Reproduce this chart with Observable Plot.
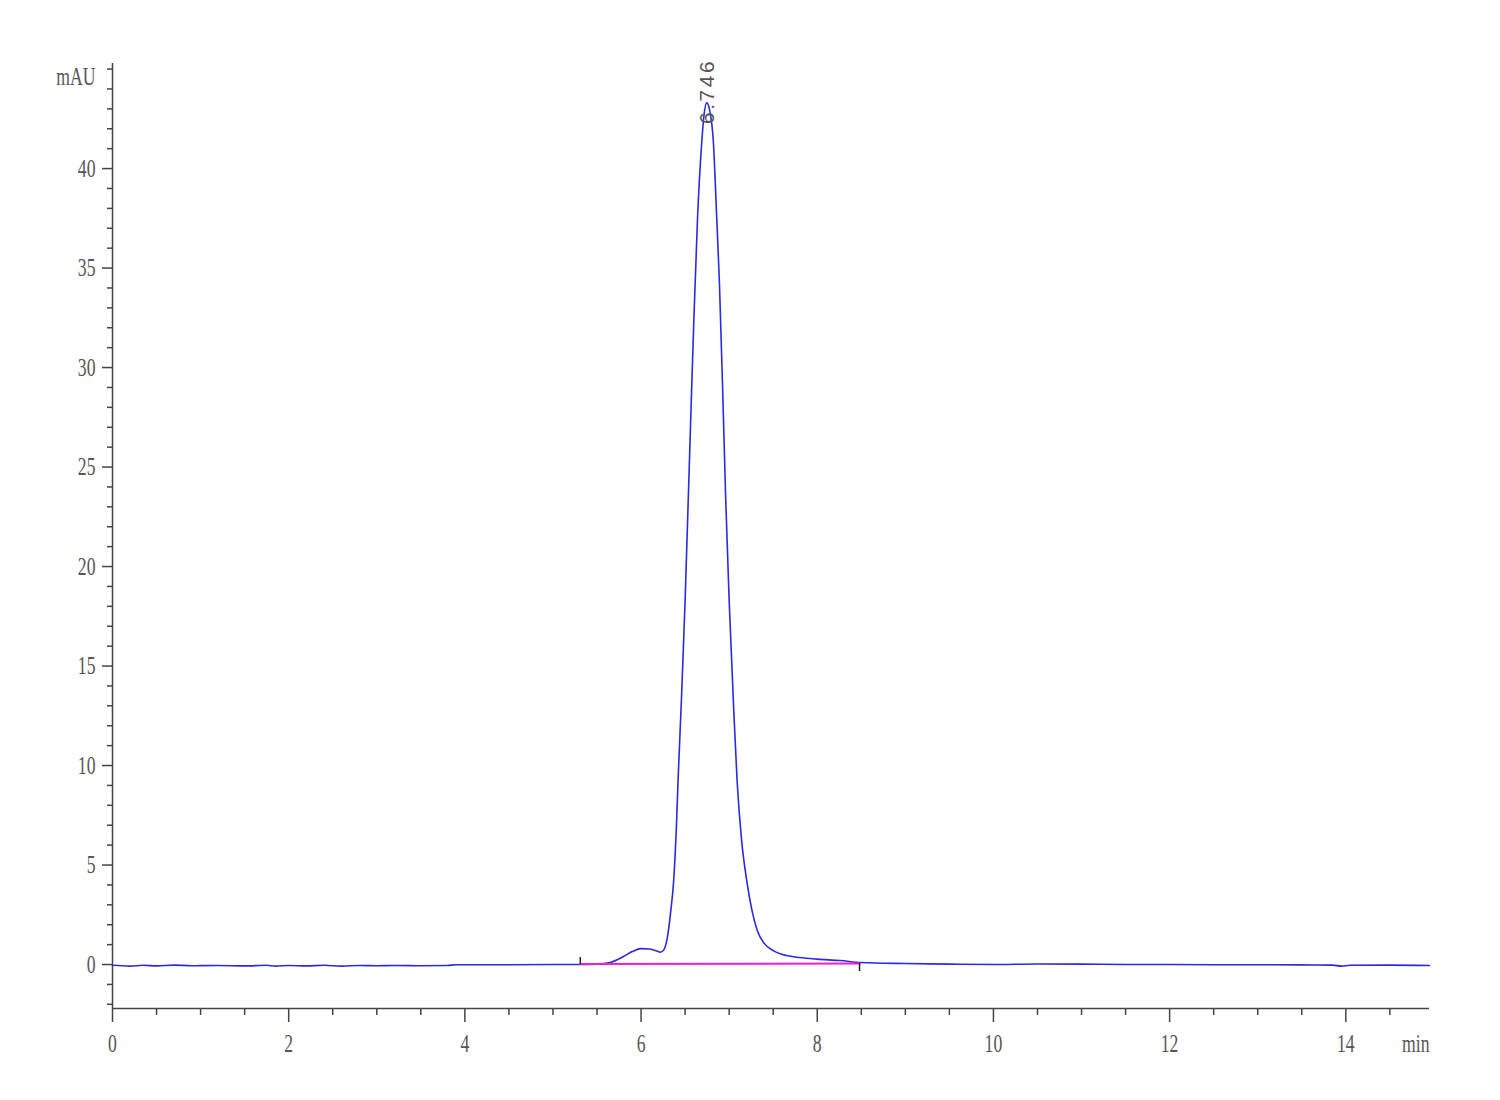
<!DOCTYPE html>
<html>
<head>
<meta charset="utf-8">
<script src="https://cdn.jsdelivr.net/npm/d3@7"></script>
<script src="https://cdn.jsdelivr.net/npm/@observablehq/plot@0.6"></script>
<style>
  html, body { margin: 0; padding: 0; background: #fff; }
  svg { display: block; }
</style>
</head>
<body>
<div id="chart"></div>
<script>
// ---- data ----
const timeMin = [
  0, 0.2, 0.35, 0.5, 0.7, 0.9, 1.2, 1.5, 1.75, 1.85, 2.0, 2.2, 2.4, 2.6, 2.8, 3.0, 3.2, 3.5, 3.8, 3.9, 4.5, 5.0, 5.3,
  5.5, 5.65, 5.8, 5.9, 6.0, 6.1, 6.18, 6.22, 6.26, 6.30, 6.34, 6.37, 6.40, 6.42, 6.46, 6.50, 6.54, 6.57, 6.60, 6.64, 6.69, 6.71, 6.746,
  6.78, 6.82, 6.86, 6.89, 6.93, 6.96, 7.00, 7.05, 7.09, 7.14, 7.20, 7.26, 7.32, 7.40, 7.50, 7.65, 7.80, 8.00, 8.26, 8.50,
  9.0, 9.5, 10.0, 10.5, 11.0, 11.5, 12.0, 12.5, 13.0, 13.5, 13.85, 13.95, 14.05, 14.5, 14.95
];
const signalMAU = [
  -0.04, -0.08, -0.04, -0.07, -0.03, -0.06, -0.05, -0.07, -0.04, -0.08, -0.05, -0.07, -0.04, -0.08, -0.05, -0.06, -0.05, -0.06, -0.05, -0.01, -0.01, 0.0, 0.0,
  0.02, 0.10, 0.40, 0.65, 0.80, 0.78, 0.68, 0.62, 0.75, 1.4, 2.8, 4.2, 6.8, 9.25, 13.5, 18.3, 24.0, 28.3, 32.5, 37.4, 41.4, 42.5, 43.3,
  42.9, 41.4, 37.4, 34.2, 28.3, 23.5, 18.3, 13.0, 9.25, 6.3, 4.2, 2.7, 1.7, 1.05, 0.70, 0.45, 0.35, 0.27, 0.20, 0.10,
  0.05, 0.02, 0.0, 0.03, 0.02, 0.0, 0.0, -0.01, -0.01, -0.02, -0.03, -0.08, -0.04, -0.03, -0.05
];

const peakTimes = [6.746];
const peakHeights = [43.3];
const peakLabels = ["6.746"];

// integration baseline (start / end of peak)
const baselineTimes = [5.31, 8.48];
const baselineValues = [0.03, 0.05];
// integration markers: [time, from, to]
const markerTimes = [5.31, 8.48];
const markerFrom = [0.0, -0.35];
const markerTo = [0.35, 0.05];

const xMajorTicks = [0, 2, 4, 6, 8, 10, 12, 14];
const xMinorTicks = [0.5, 1, 1.5, 2.5, 3, 3.5, 4.5, 5, 5.5, 6.5, 7, 7.5, 8.5, 9, 9.5, 10.5, 11, 11.5, 12.5, 13, 13.5, 14.5];
const yMajorTicks = [0, 5, 10, 15, 20, 25, 30, 35, 40];
const yMinorTicks = [-2, -1, 1, 2, 3, 4, 6, 7, 8, 9, 11, 12, 13, 14, 16, 17, 18, 19, 21, 22, 23, 24, 26, 27, 28, 29, 31, 32, 33, 34, 36, 37, 38, 39, 41, 42, 43, 44, 45];

const xDomain = [0, 14.95];
const yDomain = [-2.21, 45.28];
const xUnit = "min";
const yUnit = "mAU";

// ---- build tables ----
const trace = timeMin.map((t, i) => ({t, v: signalMAU[i]}));
const baseline = baselineTimes.map((t, i) => ({t, v: baselineValues[i]}));
const markers = markerTimes.map((t, i) => ({t, y1: markerFrom[i], y2: markerTo[i]}));
const peaks = peakTimes.map((t, i) => ({t, v: peakHeights[i], label: peakLabels[i]}));

const axisColor = "#444";
const textColor = "#5a5555";

const chart = Plot.plot({
  width: 1500,
  height: 1100,
  marginLeft: 112,
  marginRight: 71,
  marginTop: 63,
  marginBottom: 92,
  x: {domain: xDomain},
  y: {domain: yDomain},
  style: {background: "#fff", fontFamily: "'Liberation Serif', serif", fontSize: "26px", color: textColor},
  marks: [
    // axis lines
    Plot.ruleX([xDomain[0]], {y1: yDomain[0], y2: yDomain[1], stroke: axisColor, strokeWidth: 1.5}),
    Plot.ruleY([yDomain[0]], {x1: xDomain[0], x2: xDomain[1], stroke: axisColor, strokeWidth: 1.5}),
    // y axis
    Plot.axisY({ticks: yMajorTicks, tickSize: 10, tickPadding: 7, label: null, stroke: axisColor, strokeWidth: 1.5}),
    Plot.axisY({ticks: yMinorTicks, tickSize: 5, tickFormat: () => "", label: null, stroke: axisColor, strokeWidth: 1.5}),
    // x axis
    Plot.axisX({ticks: xMajorTicks, tickSize: 14, tickPadding: 11, label: null, stroke: axisColor, strokeWidth: 1.5}),
    Plot.axisX({ticks: xMinorTicks, tickSize: 7, tickFormat: () => "", label: null, stroke: axisColor, strokeWidth: 1.5}),
    // unit labels
    Plot.text([yUnit], {frameAnchor: "top-left", dx: -17, dy: 13, textAnchor: "end", lineAnchor: "middle", fill: textColor}),
    Plot.text([xUnit], {frameAnchor: "bottom-right", dy: 35, textAnchor: "end", lineAnchor: "middle", fill: textColor}),
    // signal
    Plot.line(trace, {x: "t", y: "v", stroke: "#2a2ae0", strokeWidth: 1.6, curve: "monotone-x"}),
    // integration baseline
    Plot.line(baseline, {x: "t", y: "v", stroke: "#f01ed2", strokeWidth: 2}),
    Plot.ruleX(markers, {x: "t", y1: "y1", y2: "y2", stroke: "#222", strokeWidth: 1.5}),
    // peak label
    Plot.text(peaks, {x: "t", y: "v", text: "label", rotate: -90, textAnchor: "start", dy: 21,
      fontFamily: "'Liberation Sans', sans-serif", fontSize: 21, fill: "#555"})
  ]
});

// condensed look of the instrument's serif font
d3.select(chart).selectAll("text").each(function () {
  if (peakLabels.includes(this.textContent)) {
    this.style.letterSpacing = "2.5px";
    return;
  }
  const t = this.getAttribute("transform") || "";
  const x = +(this.getAttribute("x") || 0);
  this.setAttribute("transform", `${t} translate(${x},0) scale(0.68,1) translate(${-x},0)`);
});

document.getElementById("chart").appendChild(chart);
</script>
</body>
</html>
